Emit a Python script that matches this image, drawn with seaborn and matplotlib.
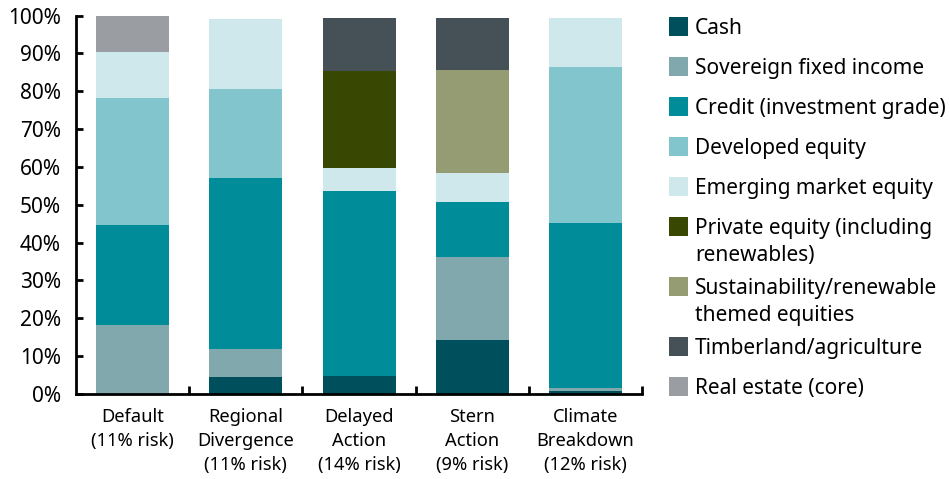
import numpy as np
import pandas as pd
import matplotlib
matplotlib.use('Agg')
import matplotlib.pyplot as plt
from matplotlib.patches import Rectangle
import seaborn as sns

# Escenarios (eje x)
scenarios = ["Default\n(11% risk)", "Regional\nDivergence\n(11% risk)",
             "Delayed\nAction\n(14% risk)", "Stern\nAction\n(9% risk)",
             "Climate\nBreakdown\n(12% risk)"]

# Clases de activos, de abajo hacia arriba
assets = ["Cash", "Sovereign fixed income", "Credit (investment grade)",
          "Developed equity", "Emerging market equity",
          "Private equity (including\nrenewables)",
          "Sustainability/renewable\nthemed equities",
          "Timberland/agriculture", "Real estate (core)"]

colors = ["#004f5c", "#81a8ad", "#008c99", "#82c5cc", "#cfe8eb",
          "#384701", "#959c73", "#465157", "#9a9ea2"]

# Pesos (%) por escenario
cash        = [0.0, 4.5, 4.8, 14.3, 0.8]
sovereign   = [18.3, 7.4, 0.0, 21.9, 0.8]
credit      = [26.4, 45.2, 48.9, 14.6, 43.6]
developed   = [33.5, 23.5, 0.0, 0.0, 41.2]
emerging    = [12.2, 18.5, 6.1, 7.6, 13.0]
private_eq  = [0.0, 0.0, 25.6, 0.0, 0.0]
sustainable = [0.0, 0.0, 0.0, 27.2, 0.0]
timberland  = [0.0, 0.0, 14.0, 13.8, 0.0]
real_estate = [9.6, 0.0, 0.0, 0.0, 0.0]

layers = [cash, sovereign, credit, developed, emerging,
          private_eq, sustainable, timberland, real_estate]

df = pd.DataFrame(np.array(layers).T, columns=assets)
df["scenario"] = scenarios
cum = df[assets].cumsum(axis=1)

plt.rcParams['font.family'] = ['Noto Sans', 'DejaVu Sans']

W, H = 950, 479
fig = plt.figure(figsize=(W / 100, H / 100), dpi=100)
ax = fig.add_axes([0.08, 0.1775, 0.596, 0.79])

# Barras apiladas: se dibujan los acumulados de arriba hacia abajo
for asset, color in reversed(list(zip(assets, colors))):
    sns.barplot(x=df["scenario"], y=cum[asset], color=color, width=0.645,
                saturation=1, ax=ax, edgecolor="none")

ax.set_ylim(0, 100)
ax.set_xlim(-0.5, 4.5)
ax.set_yticks(np.arange(0, 101, 10))
ax.set_yticklabels([f"{v}%" for v in range(0, 101, 10)], fontsize=15)
ax.set_xlabel("")
ax.set_ylabel("")
ax.tick_params(axis="x", which="major", length=0, labelsize=13.2, pad=10)
for lab in ax.get_xticklabels():
    lab.set_linespacing(1.45)
ax.set_xticks(np.arange(0.5, 5, 1), minor=True)
ax.tick_params(axis="x", which="minor", direction="in", length=6, width=2)
ax.tick_params(axis="y", direction="in", length=5, width=2, pad=11)
for s in ["top", "right"]:
    ax.spines[s].set_visible(False)
for s in ["left", "bottom"]:
    ax.spines[s].set_linewidth(2)

# Leyenda manual: cuadrado alineado con la primera linea del texto
y = 17
for asset, color in zip(assets, colors):
    fig.add_artist(Rectangle((669 / W, 1 - (y + 19) / H), 19 / W, 19 / H,
                             transform=fig.transFigure, color=color, lw=0))
    fig.text(695 / W, 1 - (y + 1) / H, asset, fontsize=15, va="top",
             ha="left", linespacing=1.4)
    y += 40 + 20 * asset.count("\n")

fig.savefig("out.png", dpi=100)
